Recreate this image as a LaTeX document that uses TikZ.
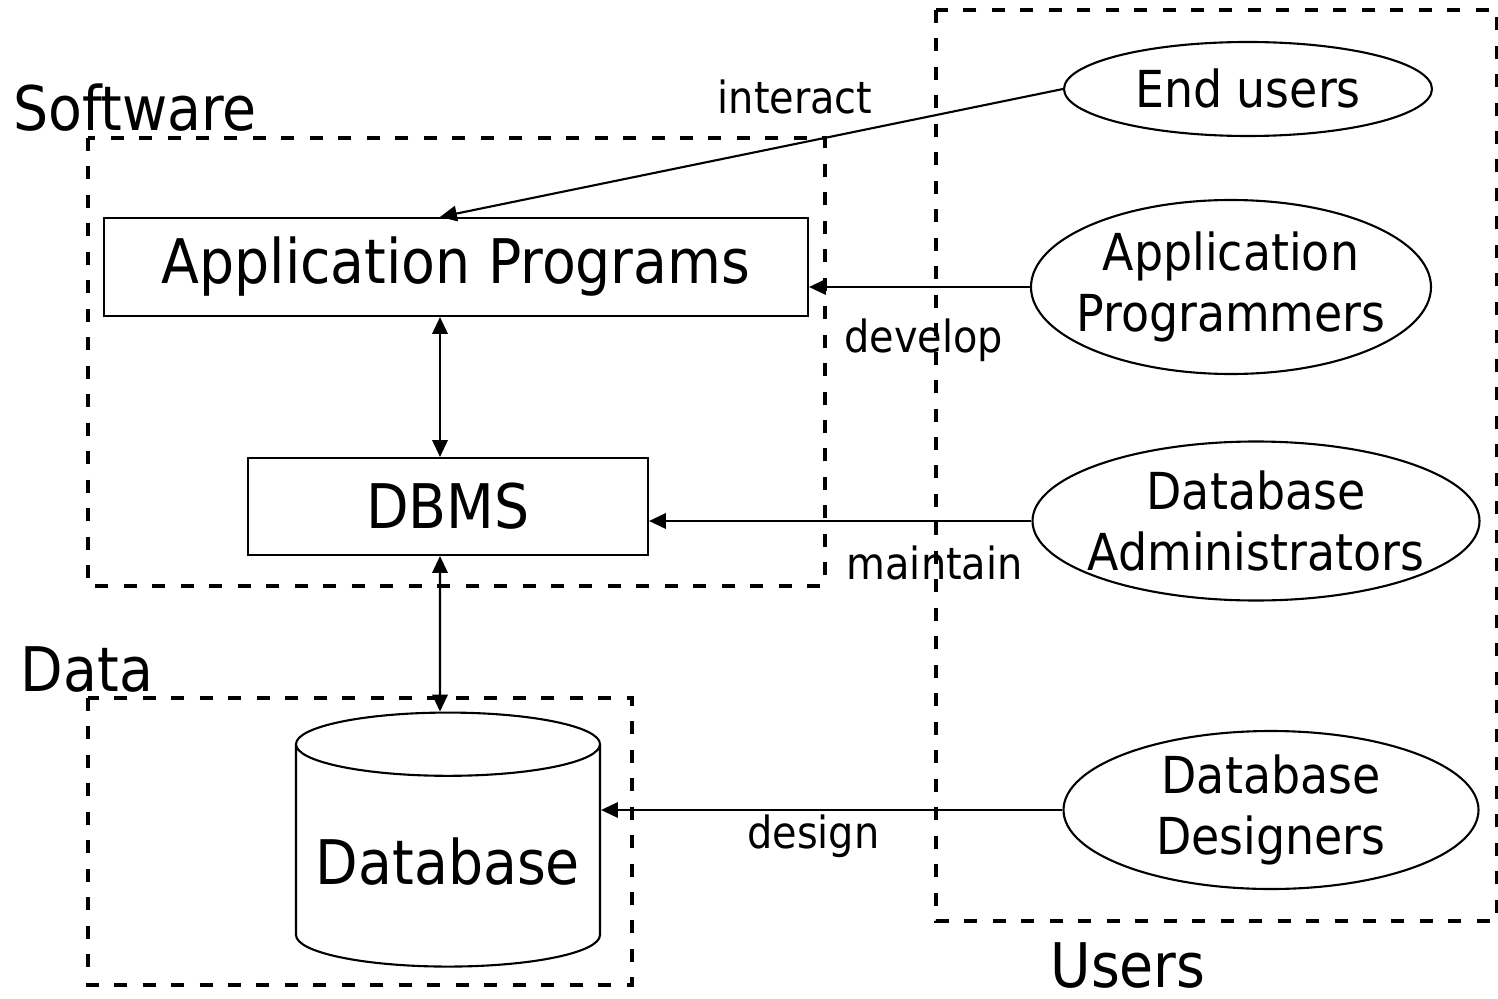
\documentclass[tikz,border=0pt]{standalone}
\usepackage{fontspec}
\setmainfont{DejaVu Sans Condensed}
\usetikzlibrary{shapes.geometric,arrows.meta}
\tikzset{
  group/.style={draw, line width=1.1pt, dash pattern=on 3.7pt off 4.4pt},
  box/.style={draw, line width=0.6pt, inner sep=0pt},
  role/.style={draw, ellipse, line width=0.6pt, inner xsep=-0.2cm, inner ysep=0pt, align=center, font=\fontsize{14.5}{17.5}\selectfont},
  link/.style={line width=0.6pt, -{Triangle[length=4.8pt,width=4.4pt]}},
  both/.style={line width=0.6pt, {Triangle[length=4.8pt,width=4.4pt]}-{Triangle[length=4.8pt,width=4.4pt]}},
  big/.style={font=\fontsize{17.5}{21}\selectfont},
  small/.style={font=\fontsize{12.6}{15}\selectfont},
}
\begin{document}
\begin{tikzpicture}
\useasboundingbox (0,0) rectangle (14.98,-9.99);
% groups
\draw[group] (0.88,-1.38) rectangle (8.25,-5.86);
\draw[group] (0.88,-6.98) rectangle (6.32,-9.85);
\draw[group] (9.36,-0.10) rectangle (14.97,-9.21);
\node[big] (software) at (1.35,-1.08) {Software};
\node[big] (data) at (0.87,-6.70) {Data};
\node[big] (users) at (11.28,-9.66) {Users};
% software and data
\node[box, big, minimum width=7.04cm, minimum height=0.98cm] (app) at (4.56,-2.67) {Application Programs};
\node[box, big, minimum width=4cm, minimum height=0.97cm] (dbms) at (4.48,-5.065) {DBMS};
\node[cylinder, shape border rotate=90, draw, line width=0.6pt, aspect=0.22, big, minimum width=3.04cm, minimum height=2.54cm] (db) at (4.48,-8.62) {Database};
% users
\node[role, minimum width=3.68cm, minimum height=0.94cm] (end) at (12.48,-0.89) {End users};
\node[role, minimum width=4cm, minimum height=1.74cm] (prog) at (12.31,-2.87) {Application\\Programmers};
\node[role, minimum width=4.47cm, minimum height=1.59cm] (admin) at (12.56,-5.21) {Database\\Administrators};
\node[role, minimum width=4.15cm, minimum height=1.58cm] (design) at (12.71,-8.10) {Database\\Designers};
% connectors
\draw[link] (end.west) -- ([xshift=-0.16cm]app.north) node[pos=0.43, yshift=0.47cm, small] (interact) {interact};
\draw[link] (prog.west) -- (prog.west -| app.east) node[pos=0.48, yshift=-0.53cm, small] (develop) {develop};
\draw[link] (admin.west) -- (admin.west -| dbms.east) node[pos=0.253, yshift=-0.42cm, small] (maintain) {maintain};
\draw[link] (design.west) -- (design.west -| db.east) node[pos=0.54, yshift=-0.26cm, small] (designs) {design};
\draw[both] ([xshift=-0.16cm]app.south) -- ([xshift=-0.08cm]dbms.north);
\draw[both] ([xshift=-0.08cm]dbms.south) -- ([xshift=-0.08cm]db.north);
\end{tikzpicture}
\end{document}
